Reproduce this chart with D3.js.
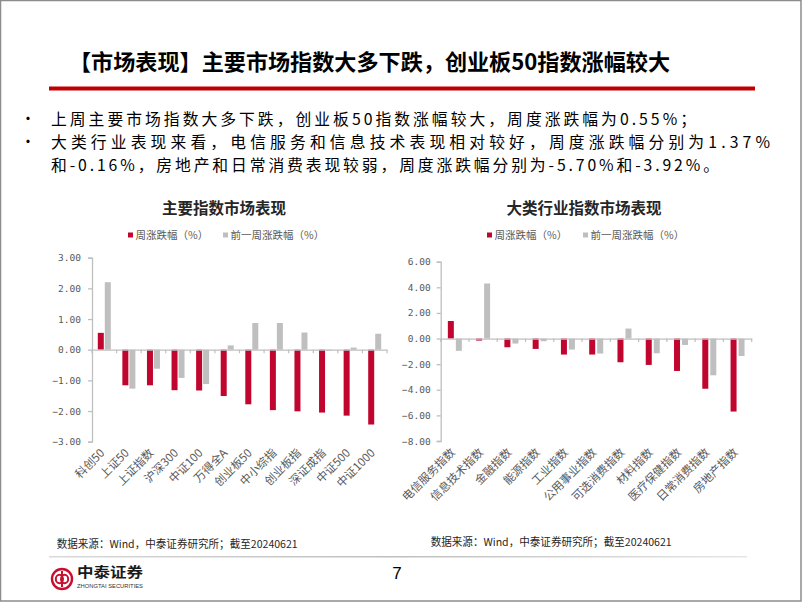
<!DOCTYPE html>
<html><head><meta charset="utf-8">
<script src="https://cdn.jsdelivr.net/npm/d3@7"></script>
<style>body{margin:0;background:#fff}svg{display:block}</style>
</head><body><svg id="c" width="802" height="602"></svg>
<script>
// ---------- data ----------
const pageTitle = "【市场表现】主要市场指数大多下跌，创业板50指数涨幅较大";
const bulletLines = [
  "上周主要市场指数大多下跌，创业板50指数涨幅较大，周度涨跌幅为0.55%；",
  "大类行业表现来看，电信服务和信息技术表现相对较好，周度涨跌幅分别为1.37%",
  "和-0.16%，房地产和日常消费表现较弱，周度涨跌幅分别为-5.70%和-3.92%。"
];
const seriesNames = ["周涨跌幅（%）", "前一周涨跌幅（%）"];

const indexTitle = "主要指数市场表现";
const indexCats = ["科创50","上证50","上证指数","沪深300","中证100","万得全A","创业板50","中小综指","创业板指","深证成指","中证500","中证1000"];
const indexWeek = [0.55,-1.16,-1.16,-1.32,-1.33,-1.51,-1.78,-1.97,-2.01,-2.05,-2.15,-2.44];
const indexPrev = [2.20,-1.27,-0.62,-0.92,-1.12,0.14,0.87,0.87,0.56,-0.02,0.07,0.52];
const indexTicks = [3,2,1,0,-1,-2,-3];

const sectorTitle = "大类行业指数市场表现";
const sectorCats = ["电信服务指数","信息技术指数","金融指数","能源指数","工业指数","公用事业指数","可选消费指数","材料指数","医疗保健指数","日常消费指数","房地产指数"];
const sectorWeek = [1.37,-0.16,-0.68,-0.81,-1.25,-1.25,-1.85,-2.06,-2.53,-3.92,-5.70];
const sectorPrev = [-0.96,4.30,-0.39,-0.21,-0.86,-1.17,0.78,-1.15,-0.50,-2.87,-1.36];
const sectorTicks = [6,4,2,0,-2,-4,-6,-8];

const sourceNote = "数据来源：Wind，中泰证券研究所；截至20240621";
const brandName = "中泰证券";
const brandEn = "ZHONGTAI SECURITIES";
const pageNo = "7";

// ---------- styles ----------
const CJK = "'Noto Sans CJK SC','Noto Sans',sans-serif";
const RED = "#C0062F", GRAY = "#BFBFBF", AXIS = "#BFBFBF", TXT = "#595959";

const svg = d3.select("#c");
svg.append("rect").attr("x",0.5).attr("y",0.5).attr("width",800.5).attr("height",600.5)
  .attr("fill","#fff").attr("stroke","#8c8c8c").attr("stroke-width",1.5);

// header
svg.append("text").attr("x",69).attr("y",62).attr("dy","0.36em")
  .attr("font-family",CJK).attr("font-weight",700).attr("font-size",22).attr("fill","#000")
  .attr("textLength",601).attr("lengthAdjust","spacingAndGlyphs").text(pageTitle);
svg.append("rect").attr("x",49).attr("y",86.5).attr("width",706).attr("height",4).attr("fill","#C00000");

const bulletY = [119,142,165];
const bulletEnd = [696,770,719];
bulletLines.forEach((t,i)=>{
  if(i<2) svg.append("text").attr("x",28).attr("y",bulletY[i]).attr("dy","0.36em")
    .attr("font-family",CJK).attr("font-size",15).attr("fill","#000").attr("text-anchor","middle").text("•");
  svg.append("text").attr("x",51).attr("y",bulletY[i]).attr("dy","0.36em")
    .attr("font-family",CJK).attr("font-size",15.8).attr("fill","#000")
    .attr("textLength",bulletEnd[i]-51).attr("lengthAdjust","spacing").text(t);
});

// ---------- chart builder ----------
function chart(o){
  const g = svg.append("g");
  g.append("text").attr("x",o.titleX).attr("y",208).attr("dy","0.36em").attr("text-anchor","middle")
    .attr("font-family",CJK).attr("font-weight",700).attr("font-size",15.5).attr("fill","#262626").text(o.title);
  // legend
  const cols=[RED,GRAY];
  o.legend.forEach((lx,i)=>{
    g.append("rect").attr("x",lx).attr("y",232.5).attr("width",5).attr("height",5).attr("fill",cols[i]);
    g.append("text").attr("x",lx+7.5).attr("y",235).attr("dy","0.36em")
      .attr("font-family",CJK).attr("font-size",10.5).attr("fill",TXT).text(seriesNames[i]);
  });
  const y = d3.scaleLinear().domain(o.domain).range([o.yBot,o.yTop]);
  const x = d3.scaleBand().domain(o.cats).range([o.x0,o.x1]).padding(0);
  const bw = x.bandwidth();
  const xs = d3.scaleBand().domain([0,1]).range([(bw-o.gw)/2,(bw+o.gw)/2]).paddingInner(o.pin);
  // y axis
  const ya = g.append("g").attr("transform",`translate(${o.x0},0)`)
    .call(d3.axisLeft(y).tickValues(o.ticks).tickSize(4).tickPadding(o.tpad).tickFormat(d3.format(".2f")));
  ya.select(".domain").attr("stroke",AXIS).attr("stroke-width",1.3);
  ya.selectAll(".tick line").attr("stroke",AXIS).attr("stroke-width",1.3);
  ya.selectAll(".tick text").attr("font-family","'DejaVu Sans Mono',monospace").attr("font-size",9.5).attr("fill",TXT);
  // bars
  const rows = o.cats.map((c,i)=>({c, v:[o.week[i],o.prev[i]]}));
  const grp = g.selectAll(".grp").data(rows).enter().append("g").attr("transform",d=>`translate(${x(d.c)},0)`);
  grp.selectAll("rect").data(d=>d.v.map((v,k)=>({v,k}))).enter().append("rect")
    .attr("x",d=>xs(d.k)).attr("width",xs.bandwidth())
    .attr("y",d=>Math.min(y(d.v),y(0))).attr("height",d=>Math.max(0.8,Math.abs(y(d.v)-y(0))))
    .attr("fill",d=>d.k?GRAY:RED);
  // x axis at zero
  const xa = g.append("g").attr("transform",`translate(0,${y(0)})`)
    .call(d3.axisBottom(x).tickSize(0).tickFormat(""));
  xa.select(".domain").attr("stroke",AXIS).attr("stroke-width",1.3);
  const bounds = o.cats.map(c=>x(c)).concat([o.x1]);
  g.selectAll(".bt").data(bounds).enter().append("line")
    .attr("x1",d=>d).attr("x2",d=>d).attr("y1",y(0)).attr("y2",y(0)+3.5)
    .attr("stroke",AXIS).attr("stroke-width",1.2);
  // category labels
  g.selectAll(".cl").data(o.cats).enter().append("text")
    .attr("transform",c=>`translate(${x(c)+bw/2+1},${o.yBot+12}) rotate(-45)`)
    .attr("text-anchor","end").attr("font-family",CJK).attr("font-size",11.5).attr("fill",TXT).text(c=>c);
  // source
  g.append("text").attr("x",o.srcX).attr("y",o.srcY).attr("dy","0.36em")
    .attr("font-family",CJK).attr("font-size",11).attr("fill","#262626")
    .attr("textLength",241).attr("lengthAdjust","spacingAndGlyphs").text(sourceNote);
}

chart({title:indexTitle,titleX:224,legend:[128,223],cats:indexCats,week:indexWeek,prev:indexPrev,
  ticks:indexTicks,domain:[-3,3],x0:92,x1:387,yTop:257.7,yBot:441.7,gw:13,pin:1/7,tpad:7,srcX:56.7,srcY:544});
chart({title:sectorTitle,titleX:584,legend:[487,583],cats:sectorCats,week:sectorWeek,prev:sectorPrev,
  ticks:sectorTicks,domain:[-8,6],x0:440.7,x1:751.7,yTop:261.7,yBot:441,gw:14,pin:0.25,tpad:6,srcX:430.7,srcY:542});

// footer
const defs = svg.append("defs");
const lg = defs.append("linearGradient").attr("id","fl");
lg.append("stop").attr("offset","0").attr("stop-color","#d9d9d9");
lg.append("stop").attr("offset","0.5").attr("stop-color","#bfbfbf");
lg.append("stop").attr("offset","1").attr("stop-color","#e6e6e6");
svg.append("rect").attr("x",49).attr("y",556).attr("width",698).attr("height",1.5).attr("fill","url(#fl)");
// logo icon
const lc = svg.append("g").attr("transform","translate(62,579)");
lc.append("circle").attr("r",10).attr("fill","none").attr("stroke","#C8102E").attr("stroke-width",2.4);
lc.append("ellipse").attr("cx",-2.6).attr("cy",0).attr("rx",3.6).attr("ry",4.2).attr("fill","none").attr("stroke","#C8102E").attr("stroke-width",2);
lc.append("ellipse").attr("cx",2.6).attr("cy",0).attr("rx",3.6).attr("ry",4.2).attr("fill","none").attr("stroke","#C8102E").attr("stroke-width",2);
lc.append("line").attr("x1",0).attr("x2",0).attr("y1",-8).attr("y2",8).attr("stroke","#C8102E").attr("stroke-width",2);
svg.append("text").attr("x",77).attr("y",571.5).attr("dy","0.36em").attr("font-family",CJK).attr("font-weight",700)
  .attr("font-size",14).attr("fill","#1a1a1a").attr("textLength",66).attr("lengthAdjust","spacingAndGlyphs").text(brandName);
svg.append("text").attr("x",77).attr("y",586.5).attr("dy","0.36em").attr("font-family","'Liberation Sans',sans-serif")
  .attr("font-size",5.5).attr("fill","#333").attr("textLength",66).attr("lengthAdjust","spacingAndGlyphs").text(brandEn);
svg.append("text").attr("x",397).attr("y",573).attr("dy","0.36em").attr("text-anchor","middle")
  .attr("font-family","'Liberation Sans Narrow','Liberation Sans',sans-serif").attr("font-size",17).attr("fill","#000").text(pageNo);
</script></body></html>
